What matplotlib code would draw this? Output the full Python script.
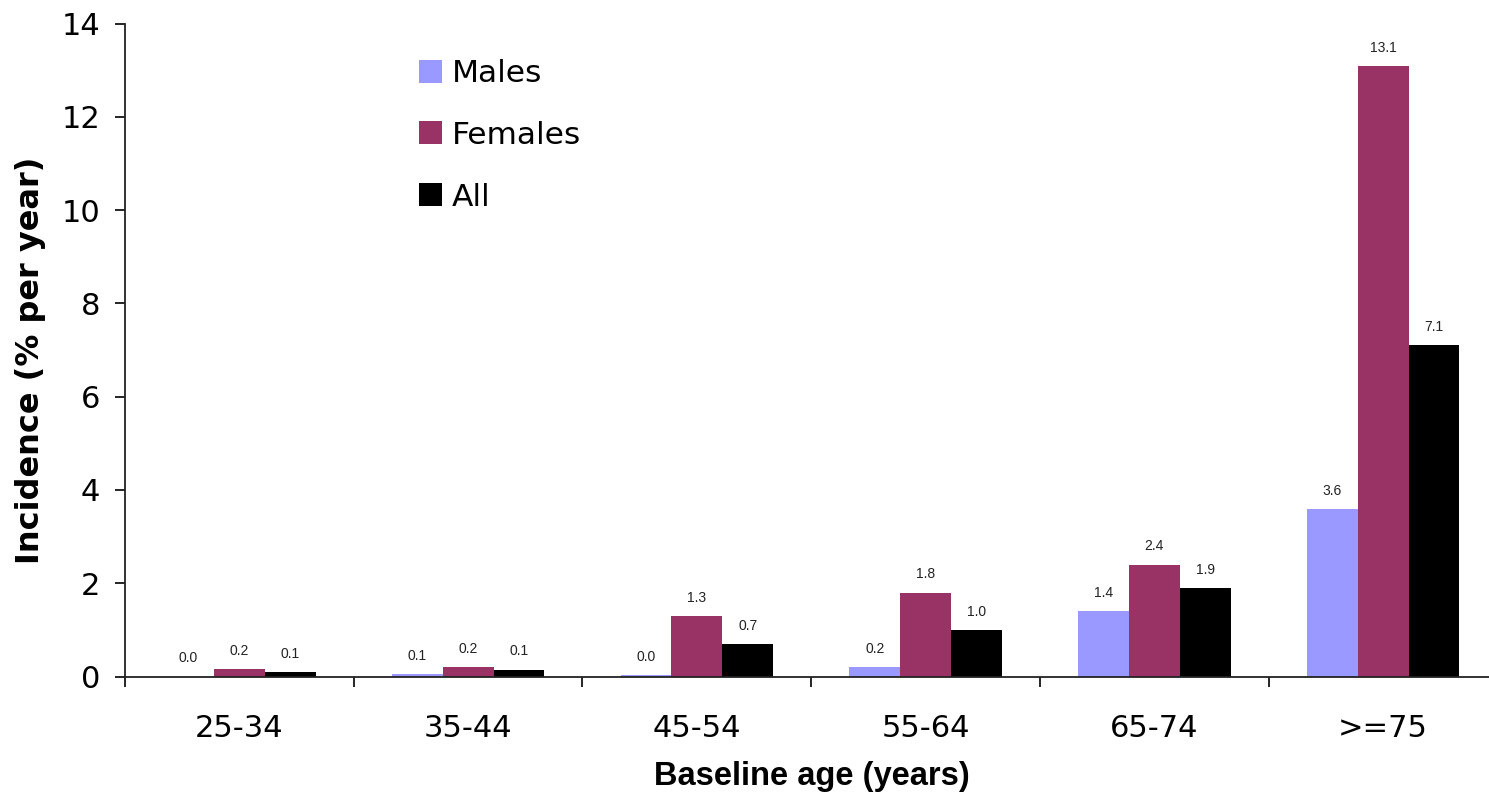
import matplotlib
matplotlib.use("Agg")
import matplotlib.pyplot as plt
from matplotlib.patches import Patch
import numpy as np

# incidence by baseline age group (% per year)
age_groups = ["25-34", "35-44", "45-54", "55-64", "65-74", ">=75"]
males = [0.0, 0.06, 0.04, 0.2, 1.4, 3.6]
females = [0.16, 0.2, 1.3, 1.8, 2.4, 13.1]
all_people = [0.09, 0.15, 0.7, 1.0, 1.9, 7.1]

series_names = ["Males", "Females", "All"]
series_colors = ["#9999FF", "#993366", "#000000"]

W, H = 1489, 799
fig = plt.figure(figsize=(W / 100, H / 100), dpi=100)
# plot area runs a little past the right edge of the figure
left_px, right_px = 125, 1497.5
top_px, zero_px = 23.7, 676.5
ax = fig.add_axes([left_px / W, 1 - zero_px / H,
                   (right_px - left_px) / W, (zero_px - top_px) / H])

x = np.arange(len(age_groups))
bw = 0.222
for k, (vals, col) in enumerate(zip([males, females, all_people], series_colors)):
    pos = x + (k - 1) * bw
    ax.bar(pos, vals, width=bw, color=col, linewidth=0)
    for px_, v in zip(pos, vals):
        ax.annotate("%.1f" % v, (px_, v), xytext=(0, 8), textcoords="offset points",
                    ha="center", va="bottom", fontsize=10, color="#222222",
                    family="Liberation Sans")

ax.set_xlim(-0.5, len(age_groups) - 0.5)
ax.set_ylim(0, 14)
ax.set_yticks(np.arange(0, 15, 2))

# boundary ticks between groups, labels centred on groups
ax.set_xticks(np.arange(-0.5, len(age_groups), 1.0))
ax.set_xticklabels([])
ax.set_xticks(x, minor=True)
ax.set_xticklabels(age_groups, minor=True)
ax.tick_params(axis="x", which="minor", length=0, pad=27, labelsize=22)
ax.tick_params(axis="x", which="major", length=7, width=1.2, direction="out")
ax.tick_params(axis="y", length=7, width=1.2, direction="out", pad=11, labelsize=22)

for s in ["top", "right"]:
    ax.spines[s].set_visible(False)
for s in ["left", "bottom"]:
    ax.spines[s].set_linewidth(1.3)
    ax.spines[s].set_color("#222222")

fig.text(31 / W, 1 - 360 / H, "Incidence (% per year)", rotation=90,
         ha="center", va="center", fontsize=23, fontweight="bold")
fig.text(812 / W, 1 - 777 / H, "Baseline age (years)", ha="center", va="center",
         fontsize=23.5, fontweight="bold", family="Liberation Sans")

handles = [Patch(facecolor=c, edgecolor="none") for c in series_colors]
ax.legend(handles, series_names, loc="upper left",
          bbox_to_anchor=(419 / W, 1 - 59 / H), bbox_transform=fig.transFigure,
          frameon=False, fontsize=22.5, handlelength=0.75, handleheight=0.75,
          handletextpad=0.3, labelspacing=1.05, borderpad=0, borderaxespad=0)

fig.savefig("out.png", dpi=100)
